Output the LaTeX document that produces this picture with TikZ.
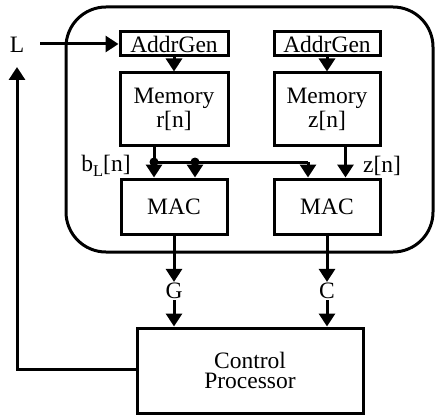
\documentclass[tikz,border=0pt]{standalone}
\usepackage{fontspec}
\setmainfont{Liberation Serif}
\usetikzlibrary{arrows.meta,positioning}
\begin{document}
\begin{tikzpicture}[x=1pt,y=-1pt,
  every node/.style={font=\fontsize{23.5}{24}\selectfont},
  blk/.style={draw,line width=3pt,inner sep=0pt,align=center},
  wire/.style={line width=3pt},
  arr/.style={wire,-{Triangle[width=16pt,length=13pt]}},
  lbl/.style={inner sep=1pt}]
\useasboundingbox (0,0) rectangle (435,414);
% enclosing unit
\draw[wire,rounded corners=40pt] (66,7) rectangle (433,252);
% address generators
\node[blk,minimum width=108pt,minimum height=24pt] (agL) at (174,44) {AddrGen};
\node[blk,minimum width=106pt,minimum height=24pt] (agR) at (327,44) {AddrGen};
% memories
\node[blk,minimum width=108pt,minimum height=72pt,font=\fontsize{23.5}{24}\selectfont] (memL) at (174,109) {Memory\\r[n]};
\node[blk,minimum width=106pt,minimum height=72pt,font=\fontsize{23.5}{24}\selectfont] (memR) at (327,109) {Memory\\z[n]};
% multiply-accumulate units
\node[blk,minimum width=106pt,minimum height=55pt] (macL) at (174,206.5) {MAC};
\node[blk,minimum width=106pt,minimum height=55pt] (macR) at (327,206.5) {MAC};
% control processor
\node[blk,minimum width=226pt,minimum height=85pt,font=\fontsize{23.5}{20}\selectfont] (ctrl) at (250,370.5) {Control\\Processor};
% signal labels
\node[lbl] (L) at (17,45) {L};
\node[lbl] (bL) at (106,166) {b\raisebox{-5pt}{\fontsize{16.5}{16.5}\selectfont L}[n]};
\node[lbl] (zn) at (382,166) {z[n]};
\node[lbl] (G) at (174,291) {G};
\node[lbl] (C) at (327,291) {C};
% junctions
\coordinate (Lin) at (40,44);
\coordinate (dA) at (154,162);
\coordinate (dB) at (195,162);
\coordinate (bus) at (308,162);
\coordinate (fb) at (17,67);
\fill (dA) circle (4.5pt);
\fill (dB) circle (4.5pt);
% connectors
\draw[arr] (Lin) -- (agL.west);
\draw[arr] (agL.south) -- (memL.north);
\draw[arr] (agR.south) -- (memR.north);
\draw[arr] (memL.south -| dA) -- (macL.north -| dA);
\draw[wire] (dA) -- (bus);
\draw[arr] (dB) -- (macL.north -| dB);
\draw[arr] (bus) -- (macR.north -| bus);
\draw[arr] (memR.south -| 345.5,0) -- (macR.north -| 345.5,0);
\draw[arr] (macL.south) -- (G.north);
\draw[arr] (macR.south) -- (C.north);
\draw[arr] (G.south) -- (ctrl.north -| G);
\draw[arr] (C.south) -- (ctrl.north -| C);
\draw[arr] (ctrl.west |- 0,369) -| (fb);
\end{tikzpicture}
\end{document}
